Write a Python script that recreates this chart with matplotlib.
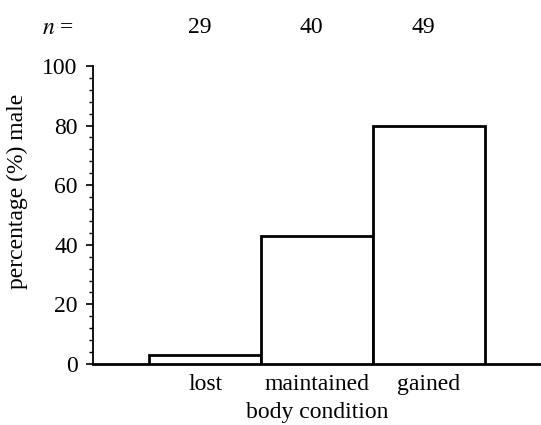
import matplotlib.pyplot as plt
from matplotlib.ticker import MultipleLocator

plt.rcParams['font.family'] = ['Liberation Serif', 'DejaVu Serif']

# Data
categories = ["lost", "maintained", "gained"]
percent_male = [3, 43, 80]
sample_sizes = [29, 40, 49]

fig = plt.figure(figsize=(5.41, 4.25), dpi=100)
ax = fig.add_axes([0.172, 0.1435, 0.828, 0.7015])

x = [1, 2, 3]
ax.bar(x, percent_male, width=1.0, facecolor="white", edgecolor="black",
       linewidth=2.0, zorder=3)

ax.set_xlim(0, 4)
ax.set_ylim(0, 100)
ax.set_xticks(x)
ax.set_xticklabels(categories)
ax.tick_params(axis="x", length=0, labelsize=17, pad=7)
ax.yaxis.set_major_locator(MultipleLocator(20))
ax.yaxis.set_minor_locator(MultipleLocator(4))
ax.tick_params(axis="y", which="major", length=5, width=1.2, labelsize=17, pad=6)
ax.tick_params(axis="y", which="minor", length=3, width=1.0)

for side in ["top", "right"]:
    ax.spines[side].set_visible(False)
ax.spines["left"].set_linewidth(1.3)
ax.spines["bottom"].set_linewidth(2.0)

ax.set_xlabel("body condition", fontsize=17, labelpad=5)
ax.set_ylabel("percentage (%) male", fontsize=17)
ax.yaxis.set_label_coords(-0.145, 0.58)

# sample sizes above the bars
fig.text(42 / 541, 1 - 28 / 425, r"$n$ =", fontsize=17, ha="left", va="center",
         math_fontfamily="stix")
for xi, n in zip(x, sample_sizes):
    ax.text(xi - 0.05, 113, str(n), fontsize=17, ha="center", va="center",
            clip_on=False)

fig.savefig("out.png", dpi=100)
